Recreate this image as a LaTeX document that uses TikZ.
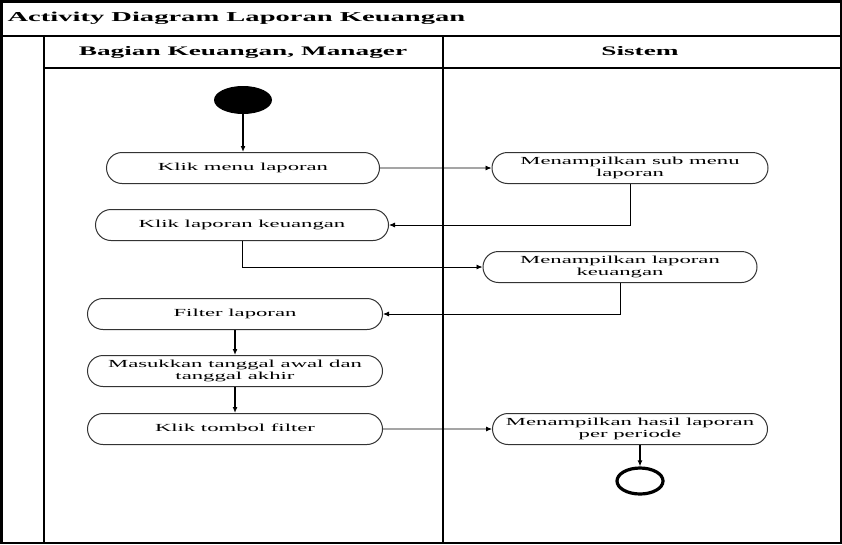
\documentclass[tikz,border=0pt]{standalone}
\usepackage{fontspec}
\setmainfont{Liberation Serif}
\usetikzlibrary{shapes.misc,shapes.geometric,arrows.meta}
\newcommand{\wide}[1]{\scalebox{2.1}[1]{\begin{tabular}{@{}c@{}}#1\end{tabular}}}
\renewcommand{\arraystretch}{1.0}
\begin{document}
\begin{tikzpicture}[x=1pt,y=-1pt,>={Latex[length=6pt,width=5pt]}]
        \tikzstyle{action}=[rounded rectangle,draw=black!80,line width=1pt,fill=white,minimum height=31pt,inner sep=0pt,font=\fontsize{10.8}{12}\selectfont]
        \tikzstyle{lane}=[line width=1.6pt]
        \tikzstyle{flow}=[->,line width=0.8pt]
        \tikzstyle{head}=[font=\bfseries\fontsize{13}{15}\selectfont]
        \useasboundingbox (0,0) rectangle (842,544);
        % frame and swimlanes
        \draw[line width=2.5pt] (1.25,1.25) rectangle (840.75,542.75);
        \draw[lane] (0,36) -- (842,36);
        \draw[lane] (44,36) -- (44,544);
        \draw[lane] (443,36) -- (443,544);
        \draw[lane] (44,68) -- (842,68);
        \node[anchor=west,font=\bfseries\fontsize{13.6}{15}\selectfont] (title) at (4,18) {\wide{Activity Diagram Laporan Keuangan}};
        \node[head] (lane-1) at (243,52) {\wide{Bagian Keuangan, Manager}};
        \node[head] (lane-2) at (640,52) {\wide{Sistem}};

        \node[ellipse,fill=black,minimum width=58pt,minimum height=28pt] (start) at (243,100) {};
        \node[action,minimum width=273pt] (menu) at (243,168) {\wide{Klik menu laporan}};
        \node[action,minimum width=276pt] (submenu) at (630,168) {\wide{Menampilkan sub menu\\laporan}};
        \node[action,minimum width=293pt] (keu) at (242,225) {\wide{Klik laporan keuangan}};
        \node[action,minimum width=274pt] (lapkeu) at (620,267) {\wide{Menampilkan laporan\\keuangan}};
        \node[action,minimum width=295pt] (filter) at (235,314) {\wide{Filter laporan}};
        \node[action,minimum width=295pt] (masuk) at (235,371) {\wide{Masukkan tanggal awal dan\\tanggal akhir}};
        \node[action,minimum width=295pt] (tombol) at (235,429) {\wide{Klik tombol filter}};
        \node[action,minimum width=275pt] (hasil) at (630,429) {\wide{Menampilkan hasil laporan\\per periode}};
        \node[ellipse,draw,line width=3.2pt,fill=white,minimum width=46pt,minimum height=26pt] (finish) at (640,481) {};

        \foreach \from/\to in {start/menu, filter/masuk, masuk/tombol}
                \draw[flow,line width=1.4pt] (\from) -- (\to);
        \draw[flow] (menu) -- (submenu);
        \draw[flow] (submenu.south) |- (keu.east);
        \draw[flow] (keu.south) |- (lapkeu.west);
        \draw[flow] (lapkeu.south) |- (filter.east);
        \draw[flow] (tombol) -- (hasil);
        \draw[flow,line width=1.4pt] (hasil.south -| finish) -- (finish);
\end{tikzpicture}
\end{document}
